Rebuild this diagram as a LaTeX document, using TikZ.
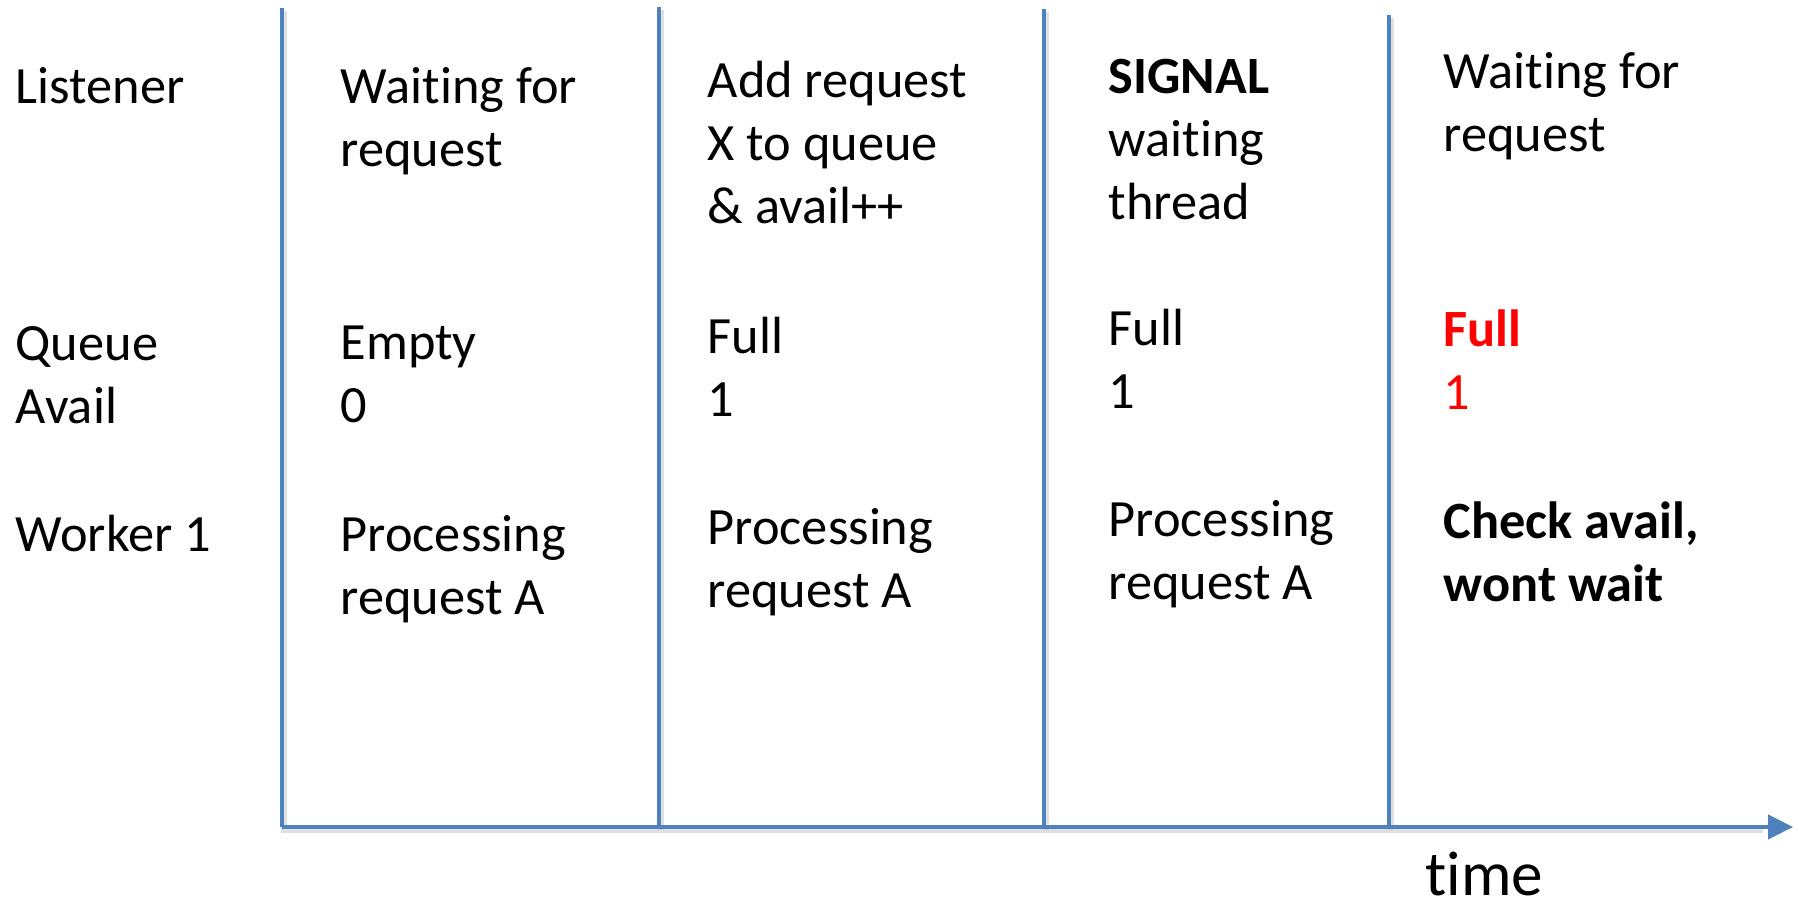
\documentclass[tikz,border=0pt]{standalone}
\usepackage{fontspec}
\setmainfont{Carlito}[Ligatures=NoCommon, Contextuals=NoAlternate]
\usetikzlibrary{arrows.meta}
\definecolor{laneblue}{HTML}{4F81BD}

\begin{document}
\begin{tikzpicture}[x=0.1mm, y=-0.1mm,
    lane/.style={line width=0.45mm, laneblue},
    laneshade/.style={line width=0.6mm, black!30, opacity=0.4},
    txt/.style={anchor=base west, align=left, inner sep=0pt,
      font=\fontsize{14.9}{18}\selectfont}]
    \useasboundingbox (0,0) rectangle (1797,904);

    % lane ends
    \coordinate (o) at (282,827);
    \coordinate (t) at (1793,827);
    \coordinate (l1) at (282,8);
    \coordinate (l2) at (659,7);   \coordinate (b2) at (659,827);
    \coordinate (l3) at (1044,9);  \coordinate (b3) at (1044,827);
    \coordinate (l4) at (1389,15); \coordinate (b4) at (1389,827);

    \draw[laneshade] ([shift={(2,3)}]l1) -- ([shift={(2,3)}]o) -- ([shift={(-30,3)}]t);
    \foreach \n in {2,3,4}
      \draw[laneshade] ([shift={(2,3)}]l\n) -- ([shift={(2,3)}]b\n);

    \draw[lane] (l1) -- (o);
    \foreach \n in {2,3,4}
      \draw[lane] (l\n) -- (b\n);
    \draw[lane, -{Triangle[length=2.5mm, width=2.4mm]}] (o) -- (t);

    % row labels (placed at last baseline)
    \node[txt] (listener) at (15,104) {Listener};
    \node[txt] (queue) at (15,424) {Queue\\Avail};
    \node[txt] (worker) at (15,552) {Worker 1};

    % step 1
    \node[txt] (a1) at (340,167) {Waiting for\\request};
    \node[txt] (a2) at (340,423) {Empty\\0};
    \node[txt] (a3) at (340,615) {Processing\\request A};

    % step 2
    \node[txt] (b1) at (707,224) {Add request\\X to queue\\\& avail++};
    \node[txt] (b2t) at (707,417) {Full\\1};
    \node[txt] (b3t) at (707,608) {Processing\\request A};

    % step 3
    \node[txt] (c1) at (1108,220) {\textbf{SIGNAL}\\waiting\\thread};
    \node[txt] (c2) at (1108,409) {Full\\1};
    \node[txt] (c3) at (1108,600) {Processing\\request A};

    % step 4
    \node[txt] (d1) at (1443,152) {Waiting for\\request};
    \node[txt, red] (d2) at (1443,410) {\textbf{Full}\\1};
    \node[txt] (d3) at (1443,602) {\textbf{Check avail,}\\\textbf{wont wait}};

    \node[txt, font=\fontsize{18}{22}\selectfont] (time) at (1425,896) {time};
\end{tikzpicture}
\end{document}
